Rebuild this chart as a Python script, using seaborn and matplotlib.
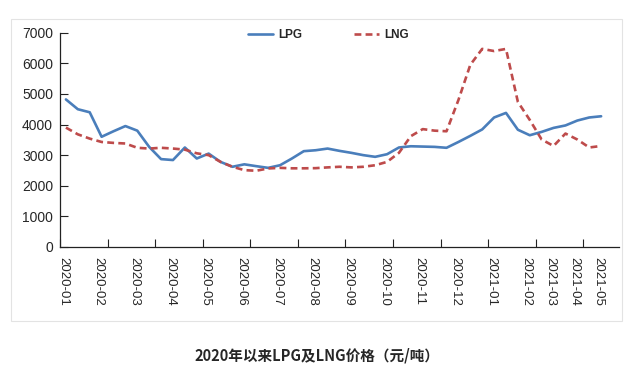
import pandas as pd
import matplotlib

matplotlib.use("Agg")
import matplotlib.pyplot as plt  # noqa: E402
from matplotlib.patches import Rectangle  # noqa: E402
from matplotlib.transforms import ScaledTranslation  # noqa: E402
import seaborn as sns  # noqa: E402

# month labels on the axis and how many readings fall in each month
MONTHS = ["2020-01", "2020-02", "2020-03", "2020-04", "2020-05", "2020-06",
          "2020-07", "2020-08", "2020-09", "2020-10", "2020-11", "2020-12",
          "2021-01", "2021-02", "2021-03", "2021-04", "2021-05"]
COUNTS = [3, 3, 3, 3, 3, 3, 3, 3, 3, 3, 3, 3, 3, 2, 2, 2, 1]

# prices, yuan/ton
LPG = [4820, 4500, 4400, 3600, 3780, 3950, 3800, 3270, 2870, 2840,
       3250, 2890, 3050, 2780, 2620, 2700, 2640, 2585, 2670, 2890,
       3130, 3160, 3215, 3140, 3075, 3000, 2945, 3030, 3250, 3290,
       3280, 3270, 3240, 3430, 3630, 3840, 4230, 4380, 3830, 3650,
       3760, 3890, 3970, 4130, 4230, 4270]
LNG = [3900, 3680, 3540, 3430, 3400, 3380, 3240, 3215, 3240, 3215,
       3180, 3060, 3000, 2780, 2620, 2510, 2490, 2565, 2585, 2570,
       2570, 2575, 2600, 2620, 2600, 2620, 2670, 2780, 3075, 3620,
       3850, 3800, 3780, 4800, 5950, 6470, 6400, 6470, 4740, 4150,
       3510, 3300, 3705, 3510, 3250, 3300]

TITLE = "2020年以来LPG及LNG价格（元/吨）"

sns.set_theme(style="white")
plt.rcParams["font.family"] = ["Liberation Sans", "DejaVu Sans"]

periods = [m for m, n in zip(MONTHS, COUNTS) for _ in range(n)]
df = pd.DataFrame({"idx": range(len(LPG)), "LPG": LPG, "LNG": LNG})
long = df.melt(id_vars="idx", var_name="fuel", value_name="price")

fig = plt.figure(figsize=(6.34, 3.90), dpi=100)
ax = fig.add_axes([0.0946, 0.3667, 0.8817, 0.5495])
sns.lineplot(data=long, x="idx", y="price", hue="fuel", style="fuel",
             palette={"LPG": "#4A7EBB", "LNG": "#BE4B4B"},
             dashes={"LPG": "", "LNG": (2.6, 1.6)}, linewidth=1.9, ax=ax)

handles, labels = ax.get_legend_handles_labels()
keep = [(h, l) for h, l in zip(handles, labels) if l in ("LPG", "LNG")]
ax.get_legend().remove()
fig.legend([h for h, _ in keep], [l for _, l in keep], loc="center",
           bbox_to_anchor=(0.518, 0.910), ncol=2, frameon=False,
           prop=dict(weight="bold", size=8.5), handlelength=2.1,
           handletextpad=0.45, columnspacing=4.4)

# category axis: one empty slot after the last reading
ax.set_xlim(-0.5, len(LPG) + 0.5)
ax.set_ylim(0, 7000)
ax.set_yticks(range(0, 7001, 1000))
ax.set_xticks([periods.index(m) for m in MONTHS])
ax.set_xticklabels(MONTHS, rotation=270, fontsize=9.5)
ax.set_xticks([i - 0.5 for i in range(0, len(LPG) + 1, 4)], minor=True)
ax.tick_params(axis="x", which="major", length=0, pad=7)
ax.tick_params(axis="x", which="minor", direction="in", length=6,
               width=0.8, color="#222222", bottom=True)
ax.tick_params(axis="y", direction="in", length=6, width=0.8,
               color="#222222", labelsize=10, pad=5, left=True)
for lbl in ax.get_xticklabels():
    lbl.set_transform(lbl.get_transform()
                      + ScaledTranslation(-0.03, 0, fig.dpi_scale_trans))
ax.set_xlabel("")
ax.set_ylabel("")
for side in ("top", "right"):
    ax.spines[side].set_visible(False)
for side in ("left", "bottom"):
    ax.spines[side].set_color("#222222")
    ax.spines[side].set_linewidth(0.9)

fig.patches.append(Rectangle((0.0169, 0.1777), 0.964, 0.7728,
                             transform=fig.transFigure, fill=False,
                             edgecolor="#e3e3e3", lw=0.8))
fig.text(0.4992, 0.0897, TITLE, ha="center", va="center", fontsize=10.5,
         fontweight="bold", family=["Noto Sans CJK SC", "DejaVu Sans"])

fig.savefig("out.png", dpi=100)
